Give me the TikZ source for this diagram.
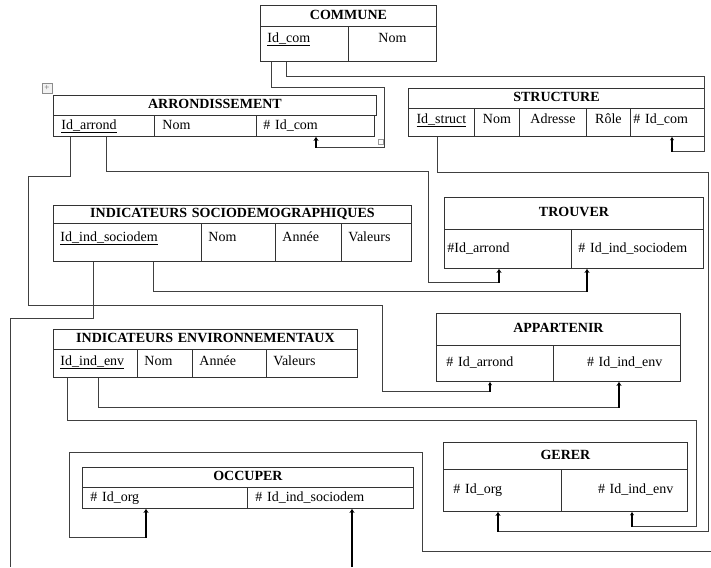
\documentclass[tikz,border=0pt]{standalone}
\usepackage{fontspec}
\setmainfont{Liberation Serif}
\usetikzlibrary{arrows.meta}

\tikzset{
  tcell/.style={draw=black!80, line width=0.9pt, anchor=north west, inner ysep=0pt, inner xsep=8pt,
    text height=10pt, text depth=3pt, align=left, font=\fontsize{14}{16}\selectfont},
  thead/.style={tcell, align=center, font=\fontsize{14}{16}\selectfont\bfseries},
  link/.style={draw=black!75, line width=0.9pt},
  fk/.style={draw=black, line width=2pt, -{Stealth[length=4pt,width=5pt]}},
  fkthin/.style={draw=black, line width=1.3pt, -{Stealth[length=3.5pt,width=4pt]}}
}

\begin{document}
\begin{tikzpicture}[x=1pt,y=-1pt]
  \useasboundingbox (0,0) rectangle (711,567);

  % COMMUNE
  \node[thead, text width=160pt, minimum height=21pt] (commune) at (260,5) {COMMUNE};
  \node[tcell, text width=74pt, inner xsep=7pt, minimum height=35pt, text depth=13pt] (comid) at (260,26) {\underline{Id\_com}};
  \node[tcell, text width=74pt, inner xsep=7pt, minimum height=35pt, text depth=13pt, align=center] (comnom) at (348,26) {Nom};

  % ARRONDISSEMENT
  \node[draw=black!45, fill=black!5, inner sep=0pt, minimum size=10pt, font=\fontsize{9}{9}\selectfont, text=black!60] (handle) at (47,88) {+};
  \node[thead, text width=307pt, minimum height=20pt] (arrond) at (53,95) {ARRONDISSEMENT};
  \node[tcell, text width=85pt, minimum height=21pt] (arrid) at (53,115) {\underline{Id\_arrond}};
  \node[tcell, text width=86pt, minimum height=21pt] (arrnom) at (154,115) {Nom};
  \node[tcell, text width=104pt, inner xsep=7pt, minimum height=21pt] (arrcom) at (256,115) {\# Id\_com};
  \node[draw=black!40, inner sep=0pt, minimum size=5pt] (resize) at (381,142) {};

  % STRUCTURE
  \node[thead, text width=280pt, minimum height=20pt] (struct) at (408,88) {STRUCTURE};
  \node[tcell, text width=62pt, inner xsep=2pt, minimum height=28pt, text depth=8pt, align=center] (strid) at (408,108) {\underline{Id\_struct}};
  \node[tcell, text width=41pt, inner xsep=2pt, minimum height=28pt, text depth=8pt, align=center] (strnom) at (474,108) {Nom};
  \node[tcell, text width=63pt, inner xsep=2pt, minimum height=28pt, text depth=8pt, align=center] (stradr) at (519,108) {Adresse};
  \node[tcell, text width=40pt, inner xsep=2pt, minimum height=28pt, text depth=8pt, align=center] (strrole) at (586,108) {Rôle};
  \node[tcell, text width=68pt, inner xsep=3pt, minimum height=28pt, text depth=8pt] (strcom) at (630,108) {\# Id\_com};

  % INDICATEURS SOCIODEMOGRAPHIQUES
  \node[thead, text width=342pt, minimum height=18pt] (socio) at (53,205) {INDICATEURS SOCIODEMOGRAPHIQUES};
  \node[tcell, text width=134pt, inner xsep=7pt, minimum height=38pt, text depth=12pt] (socid) at (53,223) {\underline{Id\_ind\_sociodem}};
  \node[tcell, text width=60pt, inner xsep=7pt, minimum height=38pt, text depth=12pt] (socnom) at (201,223) {Nom};
  \node[tcell, text width=52pt, inner xsep=7pt, minimum height=38pt, text depth=12pt] (socannee) at (275,223) {Année};
  \node[tcell, text width=56pt, inner xsep=7pt, minimum height=38pt, text depth=12pt] (socval) at (341,223) {Valeurs};

  % INDICATEURS ENVIRONNEMENTAUX
  \node[thead, text width=288pt, minimum height=20pt] (env) at (53,329) {INDICATEURS ENVIRONNEMENTAUX};
  \node[tcell, text width=70pt, inner xsep=7pt, minimum height=28pt, text depth=6pt] (envid) at (53,349) {\underline{Id\_ind\_env}};
  \node[tcell, text width=41pt, inner xsep=7pt, minimum height=28pt, text depth=6pt] (envnom) at (137,349) {Nom};
  \node[tcell, text width=60pt, inner xsep=7pt, minimum height=28pt, text depth=6pt] (envannee) at (192,349) {Année};
  \node[tcell, text width=77pt, inner xsep=7pt, minimum height=28pt, text depth=6pt] (envval) at (266,349) {Valeurs};

  % OCCUPER
  \node[thead, text width=315pt, minimum height=20pt] (occuper) at (82,467) {OCCUPER};
  \node[tcell, text width=149pt, minimum height=21pt] (occorg) at (82,487) {\# Id\_org};
  \node[tcell, text width=150pt, minimum height=21pt] (occsoc) at (247,487) {\# Id\_ind\_sociodem};

  % TROUVER
  \node[thead, text width=243pt, minimum height=32pt] (trouver) at (444,197) {TROUVER};
  \node[tcell, text width=121pt, inner xsep=3pt, minimum height=39pt] (trvarr) at (444,229) {\#Id\_arrond};
  \node[tcell, text width=118pt, inner xsep=7pt, minimum height=39pt] (trvsoc) at (571,229) {\# Id\_ind\_sociodem};

  % APPARTENIR
  \node[thead, text width=228pt, minimum height=32pt] (appartenir) at (436,313) {APPARTENIR};
  \node[tcell, text width=97pt, inner xsep=10pt, minimum height=36pt] (apparr) at (436,345) {\# Id\_arrond};
  \node[tcell, text width=91pt, inner xsep=18pt, minimum height=36pt, align=right] (appenv) at (553,345) {\# Id\_ind\_env};

  % GERER
  \node[thead, text width=228pt, minimum height=27pt] (gerer) at (443,442) {GERER};
  \node[tcell, text width=98pt, inner xsep=10pt, minimum height=42pt] (gerorg) at (443,469) {\# Id\_org};
  \node[tcell, text width=98pt, inner xsep=14pt, minimum height=42pt, align=right] (gerenv) at (561,469) {\# Id\_ind\_env};

  % arrow feet and free ends
  \coordinate (f1) at ([xshift=60pt,yshift=-11pt]arrcom.south west);
  \coordinate (f2) at ([xshift=42pt,yshift=-15pt]strcom.south west);
  \coordinate (f3) at ([xshift=54pt,yshift=-10pt]apparr.south west);
  \coordinate (f4) at ([xshift=55pt,yshift=-14pt]trvarr.south west);
  \coordinate (f5) at ([xshift=55pt,yshift=-20pt]gerorg.south west);
  \coordinate (f6) at ([xshift=16pt,yshift=-23pt]trvsoc.south west);
  \coordinate (f8) at ([xshift=66pt,yshift=-26pt]appenv.south west);
  \coordinate (f9) at ([xshift=71pt,yshift=-15pt]gerenv.south west);
  \coordinate (f10) at ([xshift=64pt,yshift=-29pt]occorg.south west);
  \coordinate (out1) at (10,567);
  \coordinate (out2) at (711,551);
  \coordinate (out3) at ([xshift=105pt]occsoc.south west |- 0,567);

  % links
  \draw[link] ([xshift=11pt]comid.south west) |- (384,87) |- (f1);
  \draw[fk] (f1) -- (f1 |- arrcom.south);
  \draw[link] ([xshift=26pt]comid.south west) |- (704,76) |- (f2);
  \draw[fkthin] (f2) -- (f2 |- strcom.south);
  \draw[link] ([xshift=17pt]arrid.south west) |- (28,176) |- (382,305) |- (f3);
  \draw[fkthin] (f3) -- (f3 |- apparr.south);
  \draw[link] ([xshift=53pt]arrid.south west) |- (428,171) |- (f4);
  \draw[fk] (f4) -- (f4 |- trvarr.south);
  \draw[link] ([xshift=29pt]strid.south west) |- (708,172) |- (f5);
  \draw[fk] (f5) -- (f5 |- gerorg.south);
  \draw[link] ([xshift=100pt]socid.south west) |- (f6);
  \draw[fk] (f6) -- (f6 |- trvsoc.south);
  \draw[link] ([xshift=40pt]socid.south west) |- (10,318) -- (out1);
  \draw[link] ([xshift=45pt]envid.south west) |- (f8);
  \draw[fk] (f8) -- (f8 |- appenv.south);
  \draw[link] ([xshift=14pt]envid.south west) |- (696,420) |- (f9);
  \draw[fkthin] (f9) -- (f9 |- gerenv.south);
  \draw[link] (f10) -| (69,452) -| (422,551) -- (out2);
  \draw[fk] (f10) -- (f10 |- occorg.south);
  \draw[fk] (out3) -- (out3 |- occsoc.south);

\end{tikzpicture}
\end{document}
